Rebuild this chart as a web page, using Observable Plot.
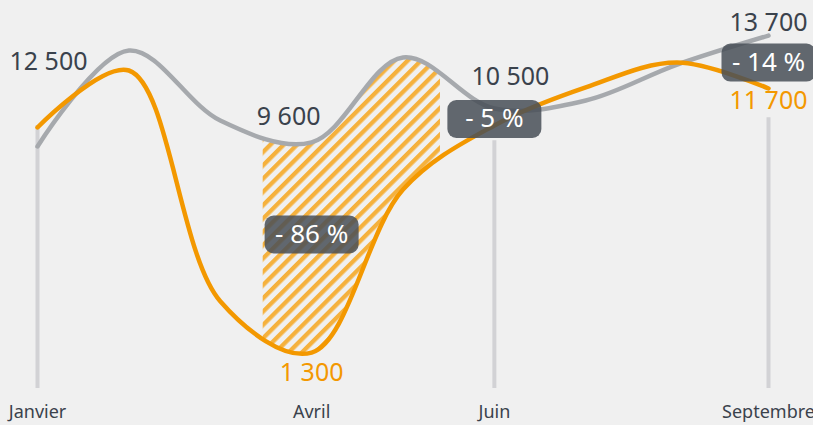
<!DOCTYPE html>
<html><head><meta charset="utf-8">
<script src="https://cdn.jsdelivr.net/npm/d3@7"></script>
<script src="https://cdn.jsdelivr.net/npm/@observablehq/plot@0.6"></script>
<style>
html,body{margin:0;padding:0;background:#f0f0f0;}
#chart svg{display:block;}
</style></head><body><div id="chart"></div>
<script>
// ---- data ----
const months = ["Janvier","Février","Mars","Avril","Mai","Juin","Juillet","Août","Septembre"];
const grayValues = [9430, 13170, 10440, 9590, 12900, 10910, 11220, 12620, 13750];
const orangeValues = [10170, 12390, 3400, 1400, 7750, 10250, 11730, 12700, 11690];
const tickMonths = ["Janvier","Avril","Juin","Septembre"];
const ruleMonths = ["Janvier","Juin","Septembre"];
const ruleTops = [10250, 9650, 10550];
const hatchSpan = [2.47, 4.41]; // month positions (mid-March .. mid-May)
const badgeMonths = ["Avril","Juin","Septembre"];
const badgeTexts = ["- 86 %","- 5 %","- 14 %"];
const badgeValues = [6000, 10500, 12700];
const grayLabelMonths = ["Janvier","Avril","Juin","Septembre"];
const grayLabelValues = [12500, 9600, 10500, 13700];
const orangeLabelMonths = ["Avril","Septembre"];
const orangeLabelValues = [1300, 11700];

// ---- tables ----
const idx = m => months.indexOf(m);
const data = months.map((m, i) => ({i, month: m, gray: grayValues[i], orange: orangeValues[i]}));
const rules = ruleMonths.map((m, k) => ({i: idx(m), top: ruleTops[k]}));
const badges = badgeMonths.map((m, k) => ({i: idx(m), v: badgeValues[k], t: badgeTexts[k]}));
const fmt = v => d3.format(",")(v).replace(/,/g, " ");

const GRAY = "#a6a9ad", ORANGE = "#f39800", DARK = "#3a424c";
const curve = "catmull-rom";

const badgeSymbol = {
  draw(ctx) {
    const w = 94, h = 38, r = 9, x0 = -w / 2, y0 = -h / 2;
    ctx.moveTo(x0 + r, y0);
    ctx.lineTo(x0 + w - r, y0);
    ctx.arcTo(x0 + w, y0, x0 + w, y0 + r, r);
    ctx.lineTo(x0 + w, y0 + h - r);
    ctx.arcTo(x0 + w, y0 + h, x0 + w - r, y0 + h, r);
    ctx.lineTo(x0 + r, y0 + h);
    ctx.arcTo(x0, y0 + h, x0, y0 + h - r, r);
    ctx.lineTo(x0, y0 + r);
    ctx.arcTo(x0, y0, x0 + r, y0, r);
    ctx.closePath();
  }
};

const grayOffsets = [[11, -6], [-23, -25], [16, -42], [0, -14]];
const orangeOffsets = [[0, 18], [0, 13]];

const labelMarks = [];
grayLabelMonths.forEach((m, k) => {
  labelMarks.push(Plot.text([{i: idx(m), v: grayLabelValues[k]}], {
    x: "i", y: "v", text: d => fmt(d.v), fill: DARK, fontSize: 25,
    dx: grayOffsets[k][0], dy: grayOffsets[k][1]
  }));
});
orangeLabelMonths.forEach((m, k) => {
  labelMarks.push(Plot.text([{i: idx(m), v: orangeLabelValues[k]}], {
    x: "i", y: "v", text: d => fmt(d.v), fill: ORANGE, fontSize: 25,
    dx: orangeOffsets[k][0], dy: orangeOffsets[k][1]
  }));
});

const plot = Plot.plot({
  width: 813, height: 425,
  marginLeft: 37, marginRight: 45, marginTop: 3, marginBottom: 37,
  style: {background: "#f0f0f0", fontFamily: "'Noto Sans', sans-serif", overflow: "visible"},
  x: {domain: [0, 8], axis: null},
  y: {domain: [0, 15000], axis: null},
  marks: [
    Plot.areaY(data, {x: "i", y1: "orange", y2: "gray", curve, fill: "url(#hatch)"}),
    Plot.ruleX(rules, {x: "i", y1: 0, y2: "top", stroke: "#d2d2d5", strokeWidth: 4}),
    Plot.line(data, {x: "i", y: "gray", curve, stroke: GRAY, strokeWidth: 4.5, strokeLinecap: "round"}),
    Plot.line(data, {x: "i", y: "orange", curve, stroke: ORANGE, strokeWidth: 4.5, strokeLinecap: "round"}),
    Plot.dot(badges, {x: "i", y: "v", symbol: badgeSymbol, r: 10, fill: "#484f57", fillOpacity: 0.85, stroke: null}),
    Plot.text(badges, {x: "i", y: "v", text: "t", fill: "white", fontSize: 26}),
    ...labelMarks,
    Plot.text(tickMonths, {x: d => idx(d), frameAnchor: "bottom", lineAnchor: "middle", dy: 24, text: d => d, fill: DARK, fontSize: 18})
  ]
});

// hatch pattern + clip to the mid-March..mid-May span
const xs = plot.scale("x");
const svg = d3.select(plot);
const defs = svg.insert("defs", ":first-child");
const pat = defs.append("pattern").attr("id", "hatch")
  .attr("patternUnits", "userSpaceOnUse").attr("width", 10).attr("height", 9.4)
  .attr("patternTransform", "rotate(-45)");
pat.append("rect").attr("x", 0).attr("y", 0).attr("width", 10).attr("height", 4.3).attr("fill", "#f5b13d");
const x0 = xs.apply(hatchSpan[0]), x1 = xs.apply(hatchSpan[1]);
defs.append("clipPath").attr("id", "hatchClip").append("rect")
  .attr("x", x0).attr("y", 0).attr("width", x1 - x0).attr("height", 425);
svg.select('g[aria-label="area"]').attr("clip-path", "url(#hatchClip)");

document.getElementById("chart").appendChild(plot);
</script></body></html>
